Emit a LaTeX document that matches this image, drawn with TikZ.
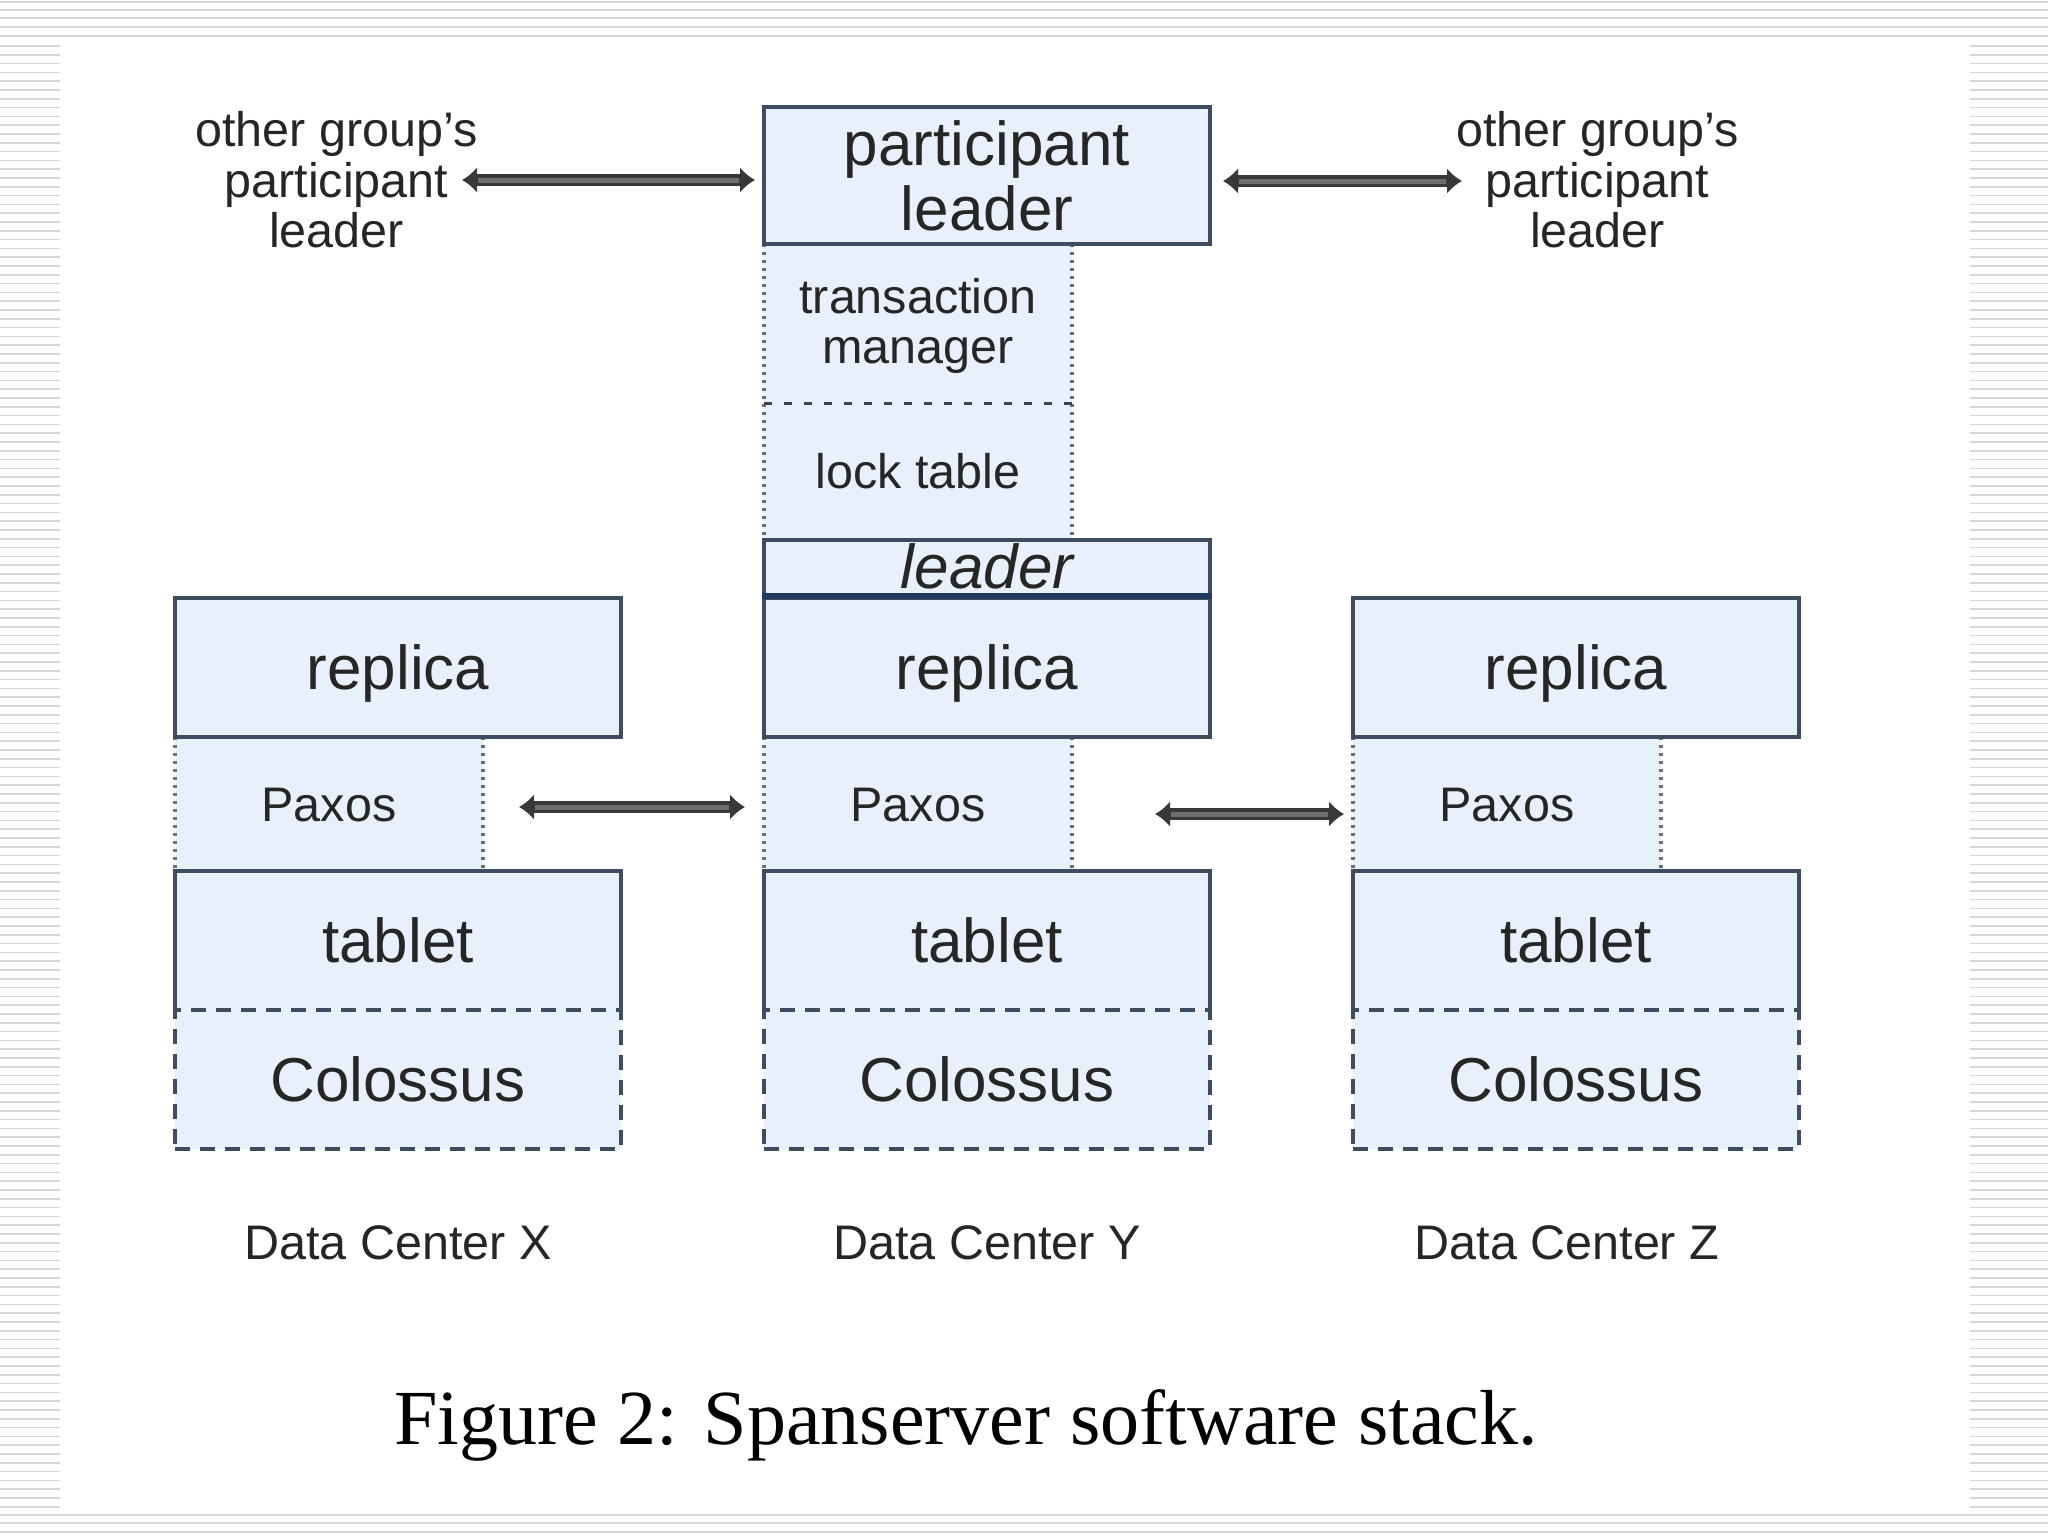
\documentclass[tikz,border=0pt]{standalone}
\usepackage{fontspec}
\setmainfont{Liberation Sans}
\newfontfamily\capserif{Liberation Serif}
\usetikzlibrary{arrows.meta}
\definecolor{boxfill}{HTML}{E8F1FB}
\definecolor{boxline}{HTML}{3D4D5F}
\definecolor{navyline}{HTML}{1F3A5C}
\definecolor{txt}{HTML}{262626}
\definecolor{dotcol}{HTML}{6A7078}
\definecolor{sepcol}{HTML}{3E434A}
\definecolor{arrdark}{HTML}{383838}
\definecolor{arrmid}{HTML}{6E6E6E}
\definecolor{stripe}{HTML}{D6D6D6}
\begin{document}
\begin{tikzpicture}[x=1pt,y=-1pt,
  bigfont/.style={font=\fontsize{62}{65}\selectfont, text=txt},
  smallfont/.style={font=\fontsize{48.5}{50}\selectfont, text=txt},
  region/.style={rectangle, fill=boxfill, draw=none, inner sep=0pt, minimum width=308pt},
  boxbase/.style={rectangle, inner sep=0pt, minimum width=446pt, fill=boxfill},
  solidbox/.style={boxbase, draw=boxline, line width=3.5pt},
  dashbox/.style={boxbase, draw=boxline, line width=3.5pt, dash pattern=on 15pt off 10pt},
  single/.style={text height=52pt, text depth=8pt},
  singlesmall/.style={text height=38pt, text depth=4pt},
  solidline/.style={draw=boxline, line width=3.5pt, line join=miter},
  dotline/.style={draw=dotcol, line width=3.5pt, dash pattern=on 3pt off 5pt},
  sepline/.style={draw=sepcol, line width=3pt, dash pattern=on 8pt off 12pt},
  bigarrow/.style={draw=arrdark, line width=12pt, {Latex[length=15pt,width=26pt]}-{Latex[length=15pt,width=26pt]}},
  arrcore/.style={draw=arrmid, line width=5pt, shorten <=16pt, shorten >=16pt},
  stripeline/.style={draw=stripe, line width=1.6pt}
]
\useasboundingbox (0,0) rectangle (2048,1536);
% background
\fill[white] (0,0) rectangle (2048,1536);
\foreach \yy in {2,10,18,27,36} \draw[stripeline] (0,\yy) -- (2048,\yy);
\foreach \yy in {46,54.8,...,1512} {\draw[stripeline] (0,\yy) -- (60,\yy); \draw[stripeline] (1970,\yy) -- (2048,\yy);}
\foreach \yy in {1515,1523,1532} \draw[stripeline] (0,\yy) -- (2048,\yy);

% regions (drawn first)
\node[region, minimum height=159pt, smallfont, align=center] (tmY) at (918,323.5) {\rule{0pt}{40pt}transaction\\manager};
\node[region, minimum height=137pt, smallfont, singlesmall] (lkY) at (918,471.5) {lock table};
\node[region, minimum height=134pt, smallfont, singlesmall] (pxX) at (329,804) {Paxos};
\node[region, minimum height=134pt, smallfont, singlesmall] (pxY) at (918,804) {Paxos};
\node[region, minimum height=134pt, smallfont, singlesmall] (pxZ) at (1507,804) {Paxos};
\draw[dotline] (tmY.north west) -- (lkY.south west);
\draw[dotline] (tmY.north east) -- (lkY.south east);
\draw[sepline] (tmY.south west) -- (tmY.south east);
\foreach \p in {pxX,pxY,pxZ} {
  \draw[dotline] (\p.north west) -- (\p.south west);
  \draw[dotline] (\p.north east) -- (\p.south east);
}

% participant leader
\node[solidbox, minimum height=137pt, bigfont, align=center] (plY) at (987,175.5) {participant\strut\\leader};

% leader + replicas
\node[solidbox, minimum height=58pt, font=\fontsize{62}{65}\selectfont\itshape, text=txt, text height=46pt, text depth=8pt] (ldY) at (987,569) {leader};
\node[solidbox, minimum height=139pt, bigfont, single] (rpX) at (398,667.5) {replica};
\node[solidbox, minimum height=139pt, bigfont, single] (rpY) at (987,667.5) {replica};
\node[solidbox, minimum height=139pt, bigfont, single] (rpZ) at (1576,667.5) {replica};
\draw[draw=navyline, line width=6pt] (rpY.north west) -- (rpY.north east);

% tablets and Colossus
\node[boxbase, minimum height=139pt, bigfont, single] (tbX) at (398,940.5) {tablet};
\node[boxbase, minimum height=139pt, bigfont, single] (tbY) at (987,940.5) {tablet};
\node[boxbase, minimum height=139pt, bigfont, single] (tbZ) at (1576,940.5) {tablet};
\node[dashbox, minimum height=139pt, bigfont, single] (csX) at (398,1079.5) {Colossus};
\node[dashbox, minimum height=139pt, bigfont, single] (csY) at (987,1079.5) {Colossus};
\node[dashbox, minimum height=139pt, bigfont, single] (csZ) at (1576,1079.5) {Colossus};
\foreach \t in {tbX,tbY,tbZ}
  \draw[solidline] (\t.south west) -- (\t.north west) -- (\t.north east) -- (\t.south east);

% side texts
\node[smallfont, align=center] (ogL) at (336.5,187) {other group's\strut\\participant\\leader\strut};
\node[smallfont, align=center] (ogR) at (1597.5,187) {other group's\strut\\participant\\leader\strut};

% data center labels
\node[smallfont, anchor=base] (dcX) at (398,1259) {Data Center X};
\node[smallfont, anchor=base] (dcY) at (987,1259) {Data Center Y};
\node[smallfont, anchor=base] (dcZ) at (1567,1259) {Data Center Z};

% caption
\node[font=\capserif\fontsize{78}{82}\selectfont, text=black, anchor=base] (cap) at (966,1444) {Figure 2: Spanserver software stack.};

% arrows
\coordinate (a1l) at (462,180);  \coordinate (a1r) at (755,180);
\coordinate (a2l) at (1223,181); \coordinate (a2r) at (1462,181);
\coordinate (a3l) at (519,807);  \coordinate (a3r) at (745,807);
\coordinate (a4l) at (1155,814); \coordinate (a4r) at (1344,814);
\foreach \s/\e in {a1l/a1r,a2l/a2r,a3l/a3r,a4l/a4r} {
  \draw[bigarrow] (\s) -- (\e);
  \draw[arrcore] (\s) -- (\e);
}
\end{tikzpicture}
\end{document}
